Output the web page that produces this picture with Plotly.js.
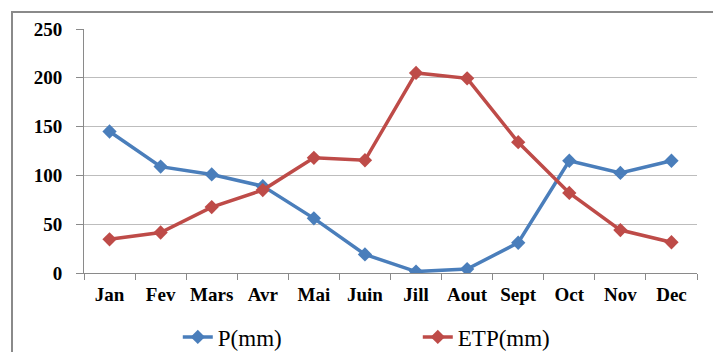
<!DOCTYPE html>
<html><head><meta charset="utf-8">
<script src="https://cdn.plot.ly/plotly-3.0.1.min.js"></script>
<style>
html,body{margin:0;padding:0;background:#fff;}
#wrap{position:relative;width:713px;height:352px;overflow:hidden;}
#chart{width:713px;height:352px;}
#frame{position:absolute;left:11px;top:11px;width:800px;height:400px;border-left:2px solid #8a8a8a;border-top:2px solid #8a8a8a;pointer-events:none;}
</style></head>
<body>
<div id="wrap"><div id="chart"></div><div id="frame"></div></div>
<script>
const months = ["Jan","Fev","Mars","Avr","Mai","Juin","Jill","Aout","Sept","Oct","Nov","Dec"];
const pValues = [145, 109, 101, 89, 56, 19, 1.5, 4, 31, 115, 102.5, 115];
const etpValues = [34.5, 41.5, 67.5, 85, 118, 115.5, 205, 199.5, 134, 82, 44, 31.5];
const yTicks = [0, 50, 100, 150, 200, 250];

const serif = "Liberation Serif";
const traces = [
  {x: months, y: pValues, name: "P(mm)", type: "scatter", mode: "lines+markers",
   line: {color: "#4A7EBB", width: 3.5}, marker: {symbol: "diamond", size: 11, color: "#4A7EBB"}},
  {x: months, y: etpValues, name: "ETP(mm)", type: "scatter", mode: "lines+markers",
   line: {color: "#BE4B48", width: 3.5}, marker: {symbol: "diamond", size: 11, color: "#BE4B48"}}
];
const layout = {
  width: 713, height: 352,
  margin: {l: 84, r: 16, t: 29, b: 79, autoexpand: false},
  paper_bgcolor: "#fff", plot_bgcolor: "#fff",
  font: {family: serif, color: "#000"},
  showlegend: true,
  legend: {orientation: "h", x: 0.153, xanchor: "left", y: -0.262, yanchor: "middle",
           entrywidth: 195, font: {family: serif, size: 23, color: "#000", weight: "normal"}},
  xaxis: {type: "category", range: [-0.5, 11.5], tickson: "boundaries", ticks: "outside", ticklen: 6, tickcolor: "#8a8a8a",
          showline: true, linecolor: "#8a8a8a", linewidth: 1, showgrid: false, zeroline: false,
          tickangle: 0, ticklabelstandoff: 4,
          tickfont: {family: serif, size: 19, color: "#000", weight: "bold"}},
  yaxis: {range: [0, 250], tickvals: yTicks, ticktext: yTicks.map(String), ticks: "outside", ticklen: 7,
          tickcolor: "#8a8a8a", showline: true, linecolor: "#8a8a8a", linewidth: 1,
          showgrid: true, gridcolor: "#bdbdbd", gridwidth: 1, zeroline: false,
          ticklabelstandoff: 10,
          tickfont: {family: serif, size: 19, color: "#000", weight: "bold"}}
};
Plotly.newPlot("chart", traces, layout, {displayModeBar: false, staticPlot: true});
</script>
</body></html>
